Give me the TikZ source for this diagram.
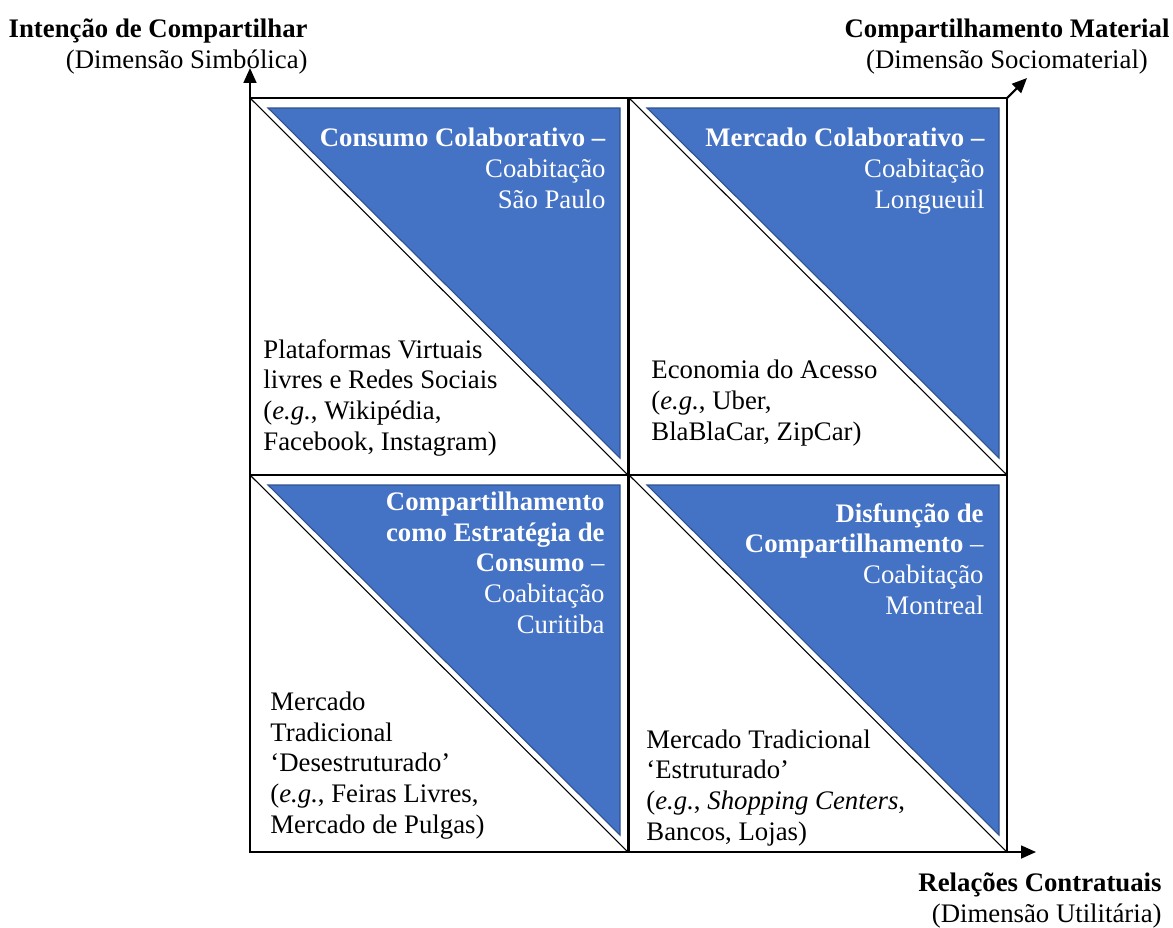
\documentclass[tikz,border=0pt]{standalone}
\usepackage{fontspec}
\setmainfont{Liberation Serif}
\usetikzlibrary{arrows.meta}
\definecolor{triblue}{HTML}{4472C4}
\definecolor{triedge}{HTML}{2F528F}

\begin{document}
\begin{tikzpicture}[x=0.467pt, y=-0.467pt,
    every node/.style={inner sep=0pt, font=\fontsize{12.5}{14.25}\selectfont},
    quadbox/.style={draw, line width=1.1pt},
    diagline/.style={draw, line width=0.5pt},
    tri/.style={fill=triblue, draw=triedge, line width=0.5pt},
    axis/.style={line width=1pt, -{Triangle[length=7pt,width=6pt]}},
    whitetxt/.style={text=white, align=right, anchor=base east},
    blacktxt/.style={align=left, anchor=base west}]
    \useasboundingbox (0,0) rectangle (1173,927);
    % quadrants: box, diagonal and blue triangle
    \foreach \qx/\qy in {250/98, 629/98, 250/475, 629/475} {
        \fill[tri] (\qx+18,\qy+10) -- (\qx+370,\qy+10) -- (\qx+370,\qy+360) -- cycle;
        \draw[diagline] (\qx,\qy) -- (\qx+378,\qy+377);
        \draw[quadbox] (\qx,\qy) rectangle (\qx+378,\qy+377);
    }
    \coordinate (origin) at (250,98);
    \coordinate (corner) at (1007,98);
    \coordinate (endx) at (1007,852);
    % axes
    \draw[axis] (origin) -- ++(0,-30);
    \draw[axis] (endx) -- ++(29,0);
    \draw[axis] (corner) -- ++(20,-20);
    % axis labels (anchored at the last line)
    \node[align=right, anchor=base east] (simb) at (308,68) {\textbf{Intenção de Compartilhar}\\(Dimensão Simbólica)};
    \node[align=center, anchor=base] (socio) at (1007,68) {\textbf{Compartilhamento Material}\\(Dimensão Sociomaterial)};
    \node[align=right, anchor=base east] (util) at (1162,922) {\textbf{Relações Contratuais}\\(Dimensão Utilitária)};
    % quadrant texts
    \node[whitetxt] (cc) at (606,208) {\textbf{Consumo Colaborativo –}\\Coabitação\\São Paulo};
    \node[blacktxt] (pv) at (263,450) {Plataformas Virtuais\\livres e Redes Sociais\\(\textit{e.g.}, Wikipédia,\\Facebook, Instagram)};
    \node[whitetxt] (mc) at (985,208) {\textbf{Mercado Colaborativo –}\\Coabitação\\Longueuil};
    \node[blacktxt] (ea) at (651,440) {Economia do Acesso\\(\textit{e.g.}, Uber,\\BlaBlaCar, ZipCar)};
    \node[whitetxt] (ce) at (605,633) {\textbf{Compartilhamento}\\\textbf{como Estratégia de}\\\textbf{Consumo} –\\Coabitação\\Curitiba};
    \node[blacktxt] (md) at (270,833) {Mercado\\Tradicional\\‘Desestruturado’\\(\textit{e.g.}, Feiras Livres,\\Mercado de Pulgas)};
    \node[whitetxt] (dc) at (984,614) {\textbf{Disfunção de}\\\textbf{Compartilhamento} –\\Coabitação\\Montreal};
    \node[blacktxt] (me) at (646,840) {Mercado Tradicional\\‘Estruturado’\\(\textit{e.g.}, \textit{Shopping Centers},\\Bancos, Lojas)};
\end{tikzpicture}
\end{document}
